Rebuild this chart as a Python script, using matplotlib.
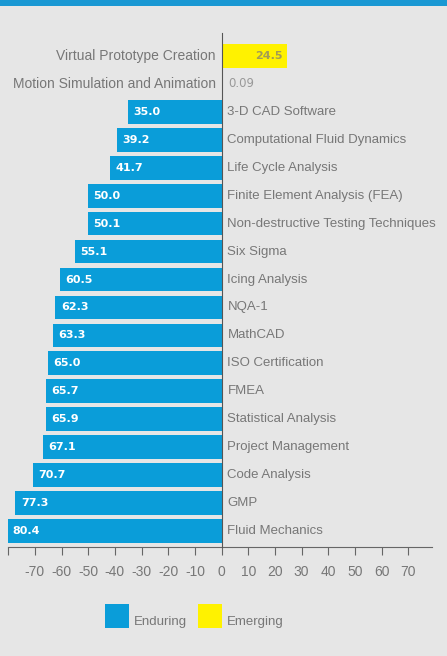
import matplotlib.pyplot as plt
from matplotlib.patches import Rectangle

plt.rcParams['font.family'] = ['Liberation Sans', 'DejaVu Sans']

# skill areas, top to bottom
skills = ["Virtual Prototype Creation", "Motion Simulation and Animation",
          "3-D CAD Software", "Computational Fluid Dynamics", "Life Cycle Analysis",
          "Finite Element Analysis (FEA)", "Non-destructive Testing Techniques",
          "Six Sigma", "Icing Analysis", "NQA-1", "MathCAD", "ISO Certification",
          "FMEA", "Statistical Analysis", "Project Management", "Code Analysis",
          "GMP", "Fluid Mechanics"]
scores = [24.5, 0.09, 35.0, 39.2, 41.7, 50.0, 50.1, 55.1, 60.5, 62.3, 63.3,
          65.0, 65.7, 65.9, 67.1, 70.7, 77.3, 80.4]
group = ["Emerging", "Emerging"] + ["Enduring"] * 16
xticks = [-80, -70, -60, -50, -40, -30, -20, -10, 0, 10, 20, 30, 40, 50, 60, 70]
xtick_labels = ["", "-70", "-60", "-50", "-40", "-30", "-20", "-10", "0",
                "10", "20", "30", "40", "50", "60", "70"]

blue = "#0a9dd9"
yellow = "#fff200"
bg = "#e6e6e6"
grey = "#777777"

W, H = 447, 656
fig = plt.figure(figsize=(W / 100, H / 100), dpi=100, facecolor=bg)

# header strip
fig.patches.append(Rectangle((0, 1 - 6 / H), 1, 6 / H, transform=fig.transFigure,
                             facecolor="#1a98d3", edgecolor="none"))

ax = fig.add_axes([8 / W, (H - 547) / H, 424 / W, (547 - 33) / H])
ax.set_facecolor(bg)

val_font = dict(family="DejaVu Sans", fontsize=8, fontweight="bold")
for i, (name, val, g) in enumerate(zip(skills, scores, group)):
    if g == "Enduring":
        ax.barh(i, -val, height=0.85, color=blue, zorder=2)
        ax.text(-val + 2, i, f"{val:.1f}", color="white", va="center",
                ha="left", zorder=3, **val_font)
        ax.text(2.2, i, name, color=grey, fontsize=9.5, va="center", ha="left")
    else:
        ax.barh(i, val, height=0.85, color=yellow, zorder=2)
        if val > 5:
            ax.text(val - 1.5, i, f"{val:.1f}", color="#a39c55", va="center",
                    ha="right", zorder=3, **val_font)
        else:
            ax.text(val + 2.5, i, f"{val:.2f}", color="#999999", family="DejaVu Sans",
                    fontsize=8.5, va="center", ha="left", zorder=3)
        ax.text(-2.2, i, name, color=grey, fontsize=10, va="center", ha="right")

ax.set_xlim(-80.1, 78.9)
ax.set_ylim(len(skills) - 0.43, -0.82)

ax.spines["top"].set_visible(False)
ax.spines["right"].set_visible(False)
ax.spines["left"].set_position(("data", 0))
ax.spines["left"].set_color("#555555")
ax.spines["left"].set_zorder(4)
ax.spines["bottom"].set_color("#666666")
ax.set_yticks([])
ax.set_xticks(xticks)
ax.set_xticklabels(xtick_labels)
ax.tick_params(axis="x", colors="#666666", labelcolor=grey, labelsize=10,
               length=6, direction="out", pad=7)

# legend
for x0, c, lab in [(105, blue, "Enduring"), (198, yellow, "Emerging")]:
    fig.patches.append(Rectangle((x0 / W, (H - 628) / H), 24 / W, 24 / H,
                                 transform=fig.transFigure, facecolor=c,
                                 edgecolor="none"))
    fig.text((x0 + 29) / W, (H - 622) / H, lab, color=grey, fontsize=9.5,
             va="center", ha="left")

fig.savefig("out.png", dpi=100, facecolor=bg)
